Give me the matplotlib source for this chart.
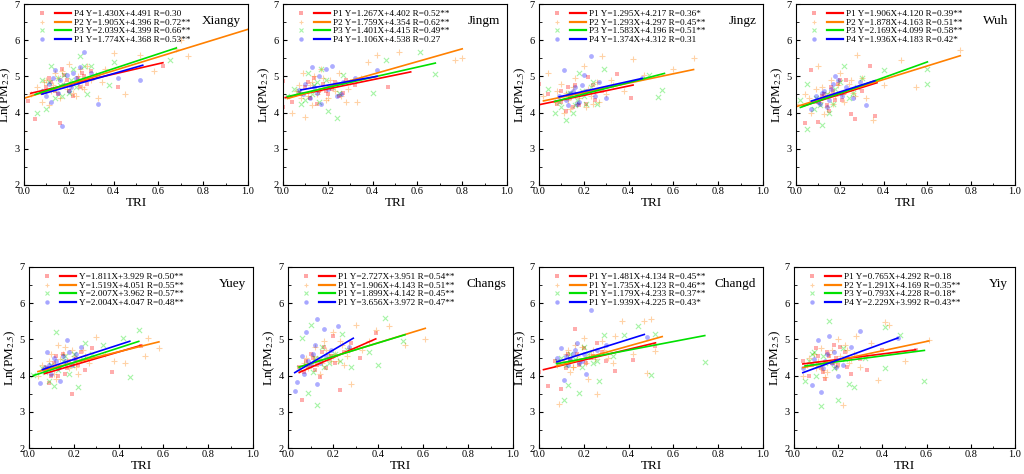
import matplotlib.pyplot as plt
from matplotlib.lines import Line2D
from matplotlib.legend_handler import HandlerTuple

plt.rcParams["font.family"] = ["Liberation Serif", "DejaVu Serif"]
plt.rcParams["mathtext.fontset"] = "stix"

colors = ["#ff0000", "#ff8000", "#00e000", "#0000ff"]
markers = ["s", "+", "x", "o"]

# ---- Xiangy ----
xiangy_x = [
    [0.02, 0.05, 0.08, 0.10, 0.12, 0.14, 0.16, 0.17, 0.19, 0.21, 0.22, 0.24, 0.26, 0.28, 0.30, 0.42, 0.62]
    + [0.11, 0.15, 0.18, 0.20, 0.25, 0.27],
    [0.00, 0.03, 0.06, 0.08, 0.10, 0.12, 0.14, 0.16, 0.18, 0.20, 0.22, 0.24, 0.26, 0.28, 0.30, 0.33, 0.36, 0.40, 0.45, 0.52, 0.58, 0.68, 0.70, 0.73, 0.11, 0.19]
    + [0.09, 0.13, 0.15, 0.17, 0.21, 0.23, 0.25, 0.27, 0.32, 0.35],
    [0.06, 0.08, 0.10, 0.12, 0.14, 0.16, 0.18, 0.20, 0.22, 0.25, 0.28, 0.30, 0.38, 0.40, 0.65, 0.15]
    + [0.09, 0.11, 0.13, 0.17, 0.21, 0.23, 0.27, 0.33],
    [0.08, 0.10, 0.12, 0.14, 0.16, 0.17, 0.18, 0.20, 0.22, 0.24, 0.25, 0.27, 0.30, 0.33, 0.42, 0.52]
    + [0.11, 0.13, 0.15, 0.19, 0.21, 0.23],
]
xiangy_y = [
    [4.32, 3.83, 4.55, 4.70, 4.85, 4.60, 3.70, 5.20, 4.90, 4.75, 4.45, 4.95, 5.10, 4.80, 5.15, 4.72, 5.30]
    + [4.95, 4.50, 5.05, 4.60, 4.70, 5.00],
    [3.50, 4.50, 4.70, 4.30, 4.90, 4.60, 5.10, 4.40, 4.80, 5.35, 4.55, 5.00, 4.70, 5.30, 4.90, 4.40, 5.20, 5.65, 4.50, 5.60, 5.15, 5.75, 6.00, 5.55, 4.20, 4.65]
    + [4.85, 4.75, 4.95, 5.15, 4.75, 4.45, 5.20, 4.65, 5.05, 4.85],
    [4.00, 4.90, 4.10, 5.30, 4.40, 4.75, 5.05, 4.55, 5.20, 5.55, 4.50, 5.30, 4.75, 5.40, 5.45, 4.95]
    + [4.60, 4.85, 4.65, 4.45, 4.90, 4.70, 5.30, 5.05],
    [4.60, 4.45, 4.30, 5.18, 4.90, 3.62, 4.75, 4.60, 5.10, 4.85, 5.25, 5.68, 5.10, 4.25, 4.95, 4.90]
    + [4.80, 4.95, 4.55, 5.05, 4.70, 4.95],
]
xiangy_fit = [(1.430, 4.491, 0.03, 0.62), (1.905, 4.396, 0.00, 1.00),
              (2.039, 4.399, 0.05, 0.68), (1.774, 4.368, 0.08, 0.53)]
xiangy_labels = ["P4 Y=1.430X+4.491 R=0.30", "P2 Y=1.905X+4.396 R=0.72**",
                 "P3 Y=2.039X+4.399 R=0.66**", "P1 Y=1.774X+4.368 R=0.53**"]

# ---- Jingm ----
jingm_x = [
    [0.00, 0.00, 0.04, 0.07, 0.10, 0.12, 0.14, 0.16, 0.18, 0.20, 0.22, 0.25, 0.28, 0.32, 0.47]
    + [0.08, 0.11, 0.15, 0.19, 0.23, 0.27],
    [0.04, 0.06, 0.08, 0.10, 0.12, 0.14, 0.15, 0.17, 0.19, 0.21, 0.23, 0.25, 0.28, 0.30, 0.35, 0.38, 0.42, 0.52, 0.77, 0.80, 0.13, 0.09]
    + [0.07, 0.11, 0.13, 0.16, 0.18, 0.20, 0.24, 0.26, 0.29, 0.33],
    [0.02, 0.05, 0.08, 0.11, 0.13, 0.15, 0.17, 0.20, 0.22, 0.24, 0.27, 0.40, 0.46, 0.61, 0.68]
    + [0.07, 0.10, 0.14, 0.16, 0.19, 0.25],
    [0.07, 0.10, 0.12, 0.13, 0.15, 0.17, 0.19, 0.22, 0.24, 0.27, 0.32, 0.42]
    + [0.09, 0.14, 0.16, 0.20, 0.26],
]
jingm_y = [
    [4.15, 4.88, 4.30, 4.55, 4.70, 4.40, 4.95, 4.60, 4.80, 4.50, 4.65, 4.45, 4.90, 4.75, 4.70]
    + [4.50, 4.85, 4.25, 4.60, 4.85, 4.55],
    [4.00, 4.60, 4.40, 3.88, 4.75, 5.00, 4.50, 5.20, 4.35, 4.90, 4.60, 5.10, 4.30, 4.85, 4.95, 5.40, 5.60, 5.68, 5.45, 5.50, 4.20, 5.10]
    + [4.75, 4.45, 4.85, 4.60, 4.95, 4.40, 4.80, 4.45, 4.65, 4.30],
    [4.45, 4.65, 4.25, 5.10, 4.50, 4.85, 5.20, 4.05, 4.70, 3.85, 5.05, 4.55, 5.45, 5.68, 5.07]
    + [4.60, 4.35, 4.75, 4.30, 4.90, 4.55],
    [4.62, 4.80, 4.40, 5.25, 4.55, 4.25, 5.20, 5.30, 4.45, 4.85, 4.95, 5.17]
    + [4.50, 4.70, 5.00, 4.65, 4.50],
]
jingm_fit = [(1.267, 4.402, 0.01, 0.57), (1.759, 4.354, 0.02, 0.80),
             (1.401, 4.415, 0.02, 0.68), (1.106, 4.538, 0.08, 0.42)]
jingm_labels = ["P1 Y=1.267X+4.402 R=0.52**", "P2 Y=1.759X+4.354 R=0.62**",
                "P3 Y=1.401X+4.415 R=0.49**", "P4 Y=1.106X+4.538 R=0.27"]

# ---- Jingz ----
jingz_x = [
    [0.00, 0.04, 0.08, 0.10, 0.12, 0.14, 0.16, 0.18, 0.20, 0.22, 0.25, 0.28, 0.35, 0.41]
    + [0.10, 0.13, 0.15, 0.17, 0.21, 0.24],
    [0.02, 0.04, 0.07, 0.10, 0.12, 0.14, 0.16, 0.18, 0.20, 0.22, 0.24, 0.26, 0.28, 0.30, 0.33, 0.38, 0.42, 0.47, 0.60, 0.69, 0.11]
    + [0.08, 0.13, 0.15, 0.17, 0.19, 0.21, 0.23, 0.25, 0.27, 0.32],
    [0.04, 0.07, 0.09, 0.12, 0.14, 0.16, 0.18, 0.20, 0.23, 0.26, 0.29, 0.49, 0.53, 0.55]
    + [0.10, 0.13, 0.15, 0.17, 0.19, 0.21, 0.24],
    [0.09, 0.11, 0.13, 0.15, 0.17, 0.19, 0.20, 0.23, 0.25, 0.27, 0.30, 0.46]
    + [0.12, 0.14, 0.16, 0.18, 0.21],
]
jingz_y = [
    [4.78, 4.50, 4.25, 4.60, 4.05, 4.40, 4.75, 4.20, 4.55, 4.98, 4.35, 4.60, 5.08, 4.40]
    + [4.30, 4.70, 4.15, 4.50, 4.25, 4.75],
    [4.45, 5.10, 4.30, 4.80, 4.55, 4.10, 4.95, 4.40, 5.30, 4.65, 4.25, 4.85, 5.55, 4.50, 4.75, 4.60, 5.47, 5.05, 5.20, 5.50, 4.00]
    + [4.60, 4.35, 4.70, 4.25, 4.55, 4.15, 4.45, 4.60, 4.30, 4.90],
    [4.65, 4.00, 4.30, 3.80, 4.55, 4.20, 5.10, 4.45, 4.70, 4.25, 5.20, 5.05, 4.43, 4.62]
    + [4.15, 4.50, 4.00, 4.35, 4.60, 4.25, 4.85],
    [4.45, 5.18, 4.20, 4.60, 4.25, 4.75, 5.05, 5.55, 4.45, 4.85, 4.40, 4.95]
    + [4.35, 4.55, 4.70, 4.30, 4.60],
]
jingz_fit = [(1.295, 4.217, 0.00, 0.42), (1.293, 4.297, 0.02, 0.69),
             (1.583, 4.196, 0.07, 0.56), (1.374, 4.312, 0.09, 0.46)]
jingz_labels = ["P1 Y=1.295X+4.217 R=0.36*", "P2 Y=1.293X+4.297 R=0.45**",
                "P3 Y=1.583X+4.196 R=0.51**", "P4 Y=1.374X+4.312 R=0.31"]

# ---- Wuh ----
wuh_x = [
    [0.04, 0.07, 0.10, 0.12, 0.14, 0.16, 0.18, 0.20, 0.22, 0.25, 0.27, 0.30, 0.34, 0.36]
    + [0.09, 0.13, 0.15, 0.17, 0.19, 0.21, 0.23],
    [0.00, 0.04, 0.07, 0.10, 0.12, 0.14, 0.16, 0.18, 0.20, 0.22, 0.24, 0.26, 0.28, 0.30, 0.32, 0.35, 0.40, 0.48, 0.55, 0.75, 0.13]
    + [0.06, 0.09, 0.11, 0.15, 0.17, 0.19, 0.21, 0.23, 0.25, 0.27],
    [0.02, 0.05, 0.05, 0.08, 0.12, 0.14, 0.17, 0.20, 0.22, 0.26, 0.30, 0.40, 0.60, 0.60]
    + [0.09, 0.11, 0.15, 0.18, 0.24, 0.28],
    [0.07, 0.09, 0.11, 0.13, 0.15, 0.17, 0.18, 0.20, 0.23, 0.26, 0.29, 0.32]
    + [0.10, 0.12, 0.14, 0.16, 0.19, 0.21],
]
wuh_y = [
    [3.70, 5.17, 3.75, 4.45, 4.20, 4.70, 4.35, 4.90, 4.55, 3.95, 3.82, 4.60, 5.28, 3.90]
    + [4.30, 4.50, 4.05, 4.60, 4.80, 4.35, 4.90],
    [4.25, 4.50, 4.00, 5.30, 4.70, 4.15, 4.90, 4.45, 5.10, 4.30, 4.80, 4.55, 5.60, 4.95, 4.40, 3.80, 4.75, 5.45, 4.70, 5.72, 3.95]
    + [4.40, 4.65, 4.30, 4.55, 4.25, 4.75, 4.50, 4.60, 4.90, 4.45],
    [4.35, 3.55, 4.78, 4.10, 3.65, 4.50, 4.25, 4.85, 5.28, 4.55, 4.95, 5.17, 5.20, 4.78]
    + [4.40, 4.20, 4.00, 4.65, 4.40, 4.70],
    [4.10, 4.45, 4.25, 4.60, 4.35, 4.80, 5.00, 4.55, 4.70, 4.40, 4.85, 4.22]
    + [4.30, 4.55, 4.15, 4.65, 4.90, 4.45],
]
wuh_fit = [(1.906, 4.120, 0.03, 0.37), (1.878, 4.163, 0.00, 0.75),
           (2.169, 4.099, 0.02, 0.60), (1.936, 4.183, 0.07, 0.36)]
wuh_labels = ["P1 Y=1.906X+4.120 R=0.39**", "P2 Y=1.878X+4.163 R=0.51**",
              "P3 Y=2.169X+4.099 R=0.58**", "P4 Y=1.936X+4.183 R=0.42*"]

# ---- Yuey ----
yuey_x = [
    [0.07, 0.09, 0.11, 0.13, 0.15, 0.17, 0.19, 0.21, 0.23, 0.25, 0.28, 0.37, 0.50]
    + [0.08, 0.10, 0.12, 0.14, 0.16, 0.18, 0.22],
    [0.04, 0.06, 0.08, 0.10, 0.12, 0.14, 0.16, 0.18, 0.20, 0.22, 0.24, 0.27, 0.30, 0.34, 0.38, 0.43, 0.52, 0.53, 0.58, 0.13]
    + [0.07, 0.09, 0.11, 0.13, 0.15, 0.17, 0.19, 0.21, 0.23, 0.25],
    [0.02, 0.06, 0.09, 0.11, 0.12, 0.15, 0.18, 0.20, 0.22, 0.25, 0.33, 0.42, 0.45, 0.49]
    + [0.07, 0.10, 0.13, 0.16, 0.19, 0.24, 0.28],
    [0.05, 0.07, 0.08, 0.10, 0.12, 0.14, 0.15, 0.17, 0.19, 0.21, 0.23]
    + [0.09, 0.11, 0.13, 0.16, 0.18, 0.20],
]
yuey_y = [
    [4.10, 3.80, 4.35, 4.00, 4.60, 4.20, 3.48, 4.45, 4.65, 4.15, 4.75, 4.10, 4.83]
    + [4.20, 4.00, 4.55, 4.25, 4.05, 4.40, 4.30],
    [4.00, 4.30, 4.15, 4.60, 3.90, 4.45, 4.80, 4.20, 4.55, 4.05, 4.70, 4.35, 5.08, 4.60, 4.40, 4.35, 4.55, 5.05, 4.75, 4.85]
    + [4.20, 4.40, 4.05, 4.25, 4.60, 4.35, 4.70, 4.25, 4.45, 4.55],
    [4.02, 4.20, 3.85, 3.70, 5.20, 4.40, 4.05, 4.60, 3.68, 4.90, 4.85, 5.05, 3.95, 5.27]
    + [4.10, 4.30, 4.15, 4.55, 4.30, 4.45, 4.60],
    [3.80, 4.25, 4.65, 4.05, 4.40, 3.85, 4.55, 4.97, 4.30, 4.60, 4.80]
    + [4.30, 4.50, 4.20, 4.40, 4.65, 4.45],
]
yuey_fit = [(1.811, 3.929, 0.07, 0.50), (1.519, 4.051, 0.04, 0.58),
            (2.007, 3.962, 0.02, 0.49), (2.004, 4.047, 0.06, 0.45)]
yuey_labels = ["Y=1.811X+3.929 R=0.50**", "Y=1.519X+4.051 R=0.55**",
               "Y=2.007X+3.962 R=0.57**", "Y=2.004X+4.047 R=0.48**"]

# ---- Changs ----
changs_x = [
    [0.05, 0.06, 0.08, 0.10, 0.12, 0.14, 0.16, 0.18, 0.20, 0.23, 0.25, 0.28, 0.32, 0.39]
    + [0.07, 0.09, 0.11, 0.13, 0.15, 0.17, 0.19, 0.21],
    [0.05, 0.08, 0.10, 0.12, 0.14, 0.16, 0.18, 0.20, 0.22, 0.24, 0.26, 0.28, 0.30, 0.33, 0.36, 0.39, 0.45, 0.52, 0.61, 0.15]
    + [0.07, 0.09, 0.11, 0.13, 0.17, 0.19, 0.21, 0.23, 0.25, 0.27],
    [0.05, 0.06, 0.09, 0.10, 0.12, 0.13, 0.15, 0.18, 0.21, 0.24, 0.28, 0.36, 0.40, 0.43, 0.51]
    + [0.08, 0.11, 0.14, 0.16, 0.19, 0.23, 0.26],
    [0.03, 0.04, 0.06, 0.08, 0.10, 0.12, 0.13, 0.13, 0.16, 0.19, 0.22, 0.27]
    + [0.07, 0.09, 0.11, 0.14, 0.17],
]
changs_y = [
    [4.25, 3.33, 4.40, 4.60, 4.15, 3.95, 4.80, 4.45, 5.10, 3.60, 4.65, 4.90, 4.50, 5.18]
    + [4.10, 4.25, 4.50, 4.30, 4.65, 4.20, 4.55, 4.35],
    [4.15, 4.50, 4.30, 4.80, 4.05, 4.95, 4.60, 5.20, 4.40, 4.85, 4.55, 3.78, 5.40, 4.70, 4.95, 5.25, 5.38, 4.85, 5.00, 4.35]
    + [4.35, 4.20, 4.55, 4.45, 4.70, 4.40, 4.60, 4.95, 4.30, 4.75],
    [4.20, 5.05, 3.52, 5.40, 4.50, 3.20, 4.80, 4.35, 4.60, 5.15, 4.25, 4.65, 4.30, 5.60, 4.95]
    + [4.30, 4.10, 4.45, 4.25, 4.55, 4.40, 4.70],
    [3.58, 3.82, 4.55, 5.20, 4.30, 4.85, 5.55, 3.78, 5.30, 4.70, 5.38, 4.80]
    + [4.05, 4.40, 4.60, 4.35, 4.55],
]
changs_fit = [(2.727, 3.951, 0.05, 0.39), (1.906, 4.143, 0.05, 0.61),
              (1.899, 4.142, 0.05, 0.52), (3.656, 3.972, 0.03, 0.29)]
changs_labels = ["P1 Y=2.727X+3.951 R=0.54**", "P1 Y=1.906X+4.143 R=0.51**",
                 "P1 Y=1.899X+4.142 R=0.45**", "P1 Y=3.656X+3.972 R=0.47**"]

# ---- Changd ----
changd_x = [
    [0.00, 0.04, 0.07, 0.10, 0.13, 0.16, 0.18, 0.20, 0.23, 0.26, 0.30, 0.34, 0.42, 0.52]
    + [0.09, 0.12, 0.14, 0.17, 0.21, 0.24, 0.28],
    [0.08, 0.09, 0.12, 0.14, 0.16, 0.18, 0.20, 0.22, 0.24, 0.26, 0.28, 0.31, 0.34, 0.37, 0.42, 0.47, 0.48, 0.50, 0.52, 0.15]
    + [0.11, 0.13, 0.15, 0.17, 0.19, 0.21, 0.23, 0.25, 0.29, 0.33],
    [0.08, 0.11, 0.13, 0.14, 0.18, 0.20, 0.24, 0.27, 0.29, 0.33, 0.38, 0.44, 0.50, 0.52, 0.74]
    + [0.10, 0.12, 0.16, 0.19, 0.22, 0.26],
    [0.08, 0.10, 0.11, 0.13, 0.15, 0.17, 0.19, 0.21, 0.23, 0.26, 0.30, 0.48]
    + [0.12, 0.14, 0.16, 0.18, 0.20],
]
changd_y = [
    [4.10, 3.72, 4.40, 3.63, 4.60, 5.28, 4.30, 4.75, 4.50, 4.90, 4.40, 4.12, 4.43, 4.82]
    + [4.35, 4.20, 4.45, 4.60, 4.35, 4.55, 4.65],
    [4.30, 3.22, 4.60, 4.10, 4.85, 4.40, 5.05, 3.90, 4.70, 3.50, 4.95, 4.50, 5.10, 5.50, 4.60, 5.50, 4.07, 5.55, 4.68, 4.25]
    + [4.40, 4.70, 4.25, 4.55, 4.80, 4.35, 4.60, 4.45, 4.70, 4.35],
    [4.40, 3.32, 3.73, 4.60, 3.52, 4.80, 4.35, 3.85, 5.13, 4.55, 5.12, 5.38, 4.03, 5.15, 4.38]
    + [4.50, 4.30, 4.45, 4.25, 4.60, 4.40],
    [4.50, 4.75, 3.87, 4.30, 4.60, 4.90, 4.40, 4.05, 5.82, 4.70, 4.85, 5.07]
    + [4.55, 4.45, 4.70, 4.35, 4.60],
]
changd_fit = [(1.481, 4.134, 0.02, 0.52), (1.735, 4.123, 0.08, 0.55),
              (1.179, 4.233, 0.08, 0.74), (1.939, 4.225, 0.08, 0.47)]
changd_labels = ["P1 Y=1.481X+4.134 R=0.45**", "P1 Y=1.735X+4.123 R=0.46**",
                 "P1 Y=1.179X+4.233 R=0.37**", "P1 Y=1.939X+4.225 R=0.43*"]

# ---- Yiy ----
yiy_x = [
    [0.04, 0.07, 0.10, 0.12, 0.14, 0.16, 0.18, 0.20, 0.23, 0.26, 0.30, 0.33, 0.40, 0.55]
    + [0.08, 0.11, 0.13, 0.15, 0.17, 0.19, 0.21, 0.24],
    [0.04, 0.07, 0.10, 0.12, 0.14, 0.16, 0.18, 0.20, 0.22, 0.24, 0.26, 0.28, 0.30, 0.35, 0.38, 0.41, 0.43, 0.50, 0.61, 0.15]
    + [0.06, 0.09, 0.11, 0.13, 0.17, 0.19, 0.21, 0.23, 0.25, 0.27],
    [0.05, 0.08, 0.10, 0.12, 0.14, 0.16, 0.20, 0.22, 0.25, 0.27, 0.32, 0.41, 0.41, 0.48, 0.59]
    + [0.07, 0.09, 0.11, 0.13, 0.18, 0.23],
    [0.04, 0.08, 0.11, 0.12, 0.14, 0.16, 0.18, 0.20, 0.22, 0.26, 0.30, 0.47]
    + [0.09, 0.13, 0.15, 0.17, 0.19],
]
yiy_y = [
    [4.40, 4.00, 4.75, 4.20, 3.90, 4.55, 4.85, 4.30, 4.65, 4.05, 4.45, 4.15, 4.70, 4.72]
    + [4.30, 4.55, 4.10, 4.65, 4.35, 4.50, 4.80, 4.25],
    [4.00, 4.50, 4.20, 4.75, 3.95, 4.60, 4.35, 5.00, 3.18, 4.70, 4.45, 5.10, 4.25, 4.90, 3.88, 5.48, 5.40, 4.40, 4.98, 4.10]
    + [4.30, 4.60, 4.40, 4.15, 4.70, 4.25, 4.55, 4.85, 4.35, 4.60],
    [3.85, 4.60, 4.00, 3.15, 4.35, 5.50, 3.32, 4.75, 3.78, 3.68, 4.50, 5.35, 4.22, 5.12, 3.85]
    + [4.40, 4.65, 4.30, 4.55, 4.20, 4.45],
    [4.20, 3.75, 4.97, 3.55, 4.40, 5.10, 4.65, 4.00, 4.30, 4.80, 5.22, 5.05]
    + [4.45, 4.20, 4.60, 4.35, 4.25],
]
yiy_fit = [(0.765, 4.292, 0.04, 0.55), (1.291, 4.169, 0.04, 0.61),
           (0.793, 4.228, 0.05, 0.59), (2.229, 3.992, 0.04, 0.47)]
yiy_labels = ["P1 Y=0.765X+4.292 R=0.18", "P2 Y=1.291X+4.169 R=0.35**",
              "P3 Y=0.793X+4.228 R=0.18*", "P4 Y=2.229X+3.992 R=0.43**"]

panels = [
    ("Xiangy", xiangy_x, xiangy_y, xiangy_fit, xiangy_labels),
    ("Jingm", jingm_x, jingm_y, jingm_fit, jingm_labels),
    ("Jingz", jingz_x, jingz_y, jingz_fit, jingz_labels),
    ("Wuh", wuh_x, wuh_y, wuh_fit, wuh_labels),
    ("Yuey", yuey_x, yuey_y, yuey_fit, yuey_labels),
    ("Changs", changs_x, changs_y, changs_fit, changs_labels),
    ("Changd", changd_x, changd_y, changd_fit, changd_labels),
    ("Yiy", yiy_x, yiy_y, yiy_fit, yiy_labels),
]

W, H = 1024, 474
fig = plt.figure(figsize=(W / 100, H / 100), dpi=100)

# axes boxes in pixels: left, width
boxes_top = [(24, 224), (283, 224), (539, 224), (796, 219)]
boxes_bot = [(29, 224), (288, 225), (539, 224), (794, 221)]
ah = 181

for i, (name, xs, ys, fits, labels) in enumerate(panels):
    if i < 4:
        (left, aw), top = boxes_top[i], 4
    else:
        (left, aw), top = boxes_bot[i - 4], 267
    ax = fig.add_axes([left / W, 1 - (top + ah) / H, aw / W, ah / H])

    handles = []
    for k in range(4):
        c = colors[k]
        m = markers[k]
        if m in ("+", "x"):
            ax.scatter(xs[k], ys[k], s=14, marker=m, color=c, alpha=0.35, linewidths=0.8)
        else:
            ax.scatter(xs[k], ys[k], s=12, marker=m, color=c, alpha=0.32, linewidths=0)
        a, b, x0, x1 = fits[k]
        ax.plot([x0, x1], [a * x0 + b, a * x1 + b], color=c, lw=1.2)
        mk = Line2D([], [], ls="none", marker=m, color=c, alpha=0.35, markersize=3.2,
                    markeredgewidth=0.8 if m in ("+", "x") else 0)
        ln = Line2D([], [], color=c, lw=1.6)
        handles.append((mk, ln))

    ax.legend(handles, labels, handler_map={tuple: HandlerTuple(ndivide=None, pad=0.5)},
              loc="upper left", bbox_to_anchor=(0.02, 1.0), frameon=False,
              fontsize=6.7, handlelength=4.0, handletextpad=0.3, labelspacing=0.02,
              borderaxespad=0.2)

    ax.text(0.97, 0.94, name, transform=ax.transAxes, ha="right", va="top", fontsize=9.5)

    ax.set_xlim(0, 1.0)
    ax.set_ylim(2, 7)
    ax.set_xticks([0, 0.2, 0.4, 0.6, 0.8, 1.0])
    ax.set_xticks([0.1, 0.3, 0.5, 0.7, 0.9], minor=True)
    ax.set_yticks([2, 3, 4, 5, 6, 7])
    ax.set_yticks([2.5, 3.5, 4.5, 5.5, 6.5], minor=True)
    ax.set_xticklabels(["0.0", "0.2", "0.4", "0.6", "0.8", "1.0"])
    ax.tick_params(which="both", direction="in", labelsize=7.5)
    ax.tick_params(axis="x", pad=1.5)
    ax.tick_params(axis="y", pad=3)
    ax.tick_params(which="major", length=3, width=0.8)
    ax.tick_params(which="minor", length=1.8, width=0.6)
    for sp in ax.spines.values():
        sp.set_linewidth(0.8)
    ax.set_xlabel("TRI", fontsize=9.5, labelpad=1)
    ax.set_ylabel("Ln(PM$_{2.5}$)", fontsize=9.5, labelpad=1)

fig.savefig("out.png", dpi=100)
